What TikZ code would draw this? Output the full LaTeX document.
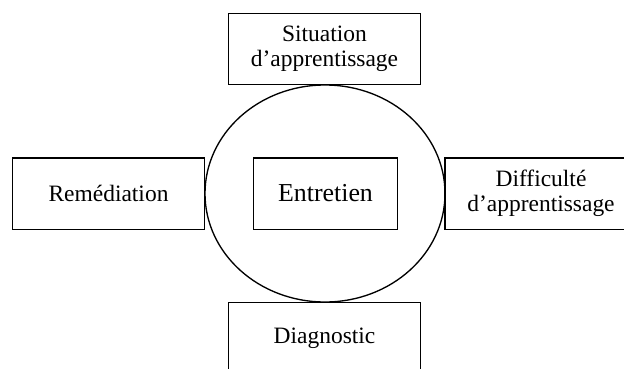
\documentclass[tikz,border=0pt]{standalone}
\usepackage{fontspec}
\setmainfont{Liberation Serif}
\usepackage{tikz}
\usetikzlibrary{shapes,calc,positioning}
\tikzset{
	thick,
	boite/.style ={rectangle, draw, line width=1pt, fill=white, align=center,
	 minimum width=144pt, minimum height=53.5pt, inner sep=0pt,
	 font=\fontsize{17.6}{19}\selectfont},
	centre/.style = {boite, minimum width=108pt, font=\fontsize{19.4}{21}\selectfont},
	rond/.style = {ellipse, draw, line width=1pt, inner sep=0pt,
	 minimum width=180pt, minimum height=162.75pt},
}

\begin{document}
\begin{tikzpicture}[x=0.75pt,y=-0.75pt]
    \useasboundingbox (0,0) rectangle (624,368);
    \node[rond] (cercle) at (325,193.5) {};
    \node[boite] (sit) at (324.5,49) {Situation\\d’apprentissage};
    \node[boite] (rem) at (108.5,193.5) {Remédiation};
    \node[boite] (dif) at (541,193.5) {Difficulté\\d’apprentissage};
    \node[boite] (diag) at (324.5,338) {Diagnostic};
    \node[centre] (ent) at (325.5,193.5) {Entretien};
\end{tikzpicture}
\end{document}
